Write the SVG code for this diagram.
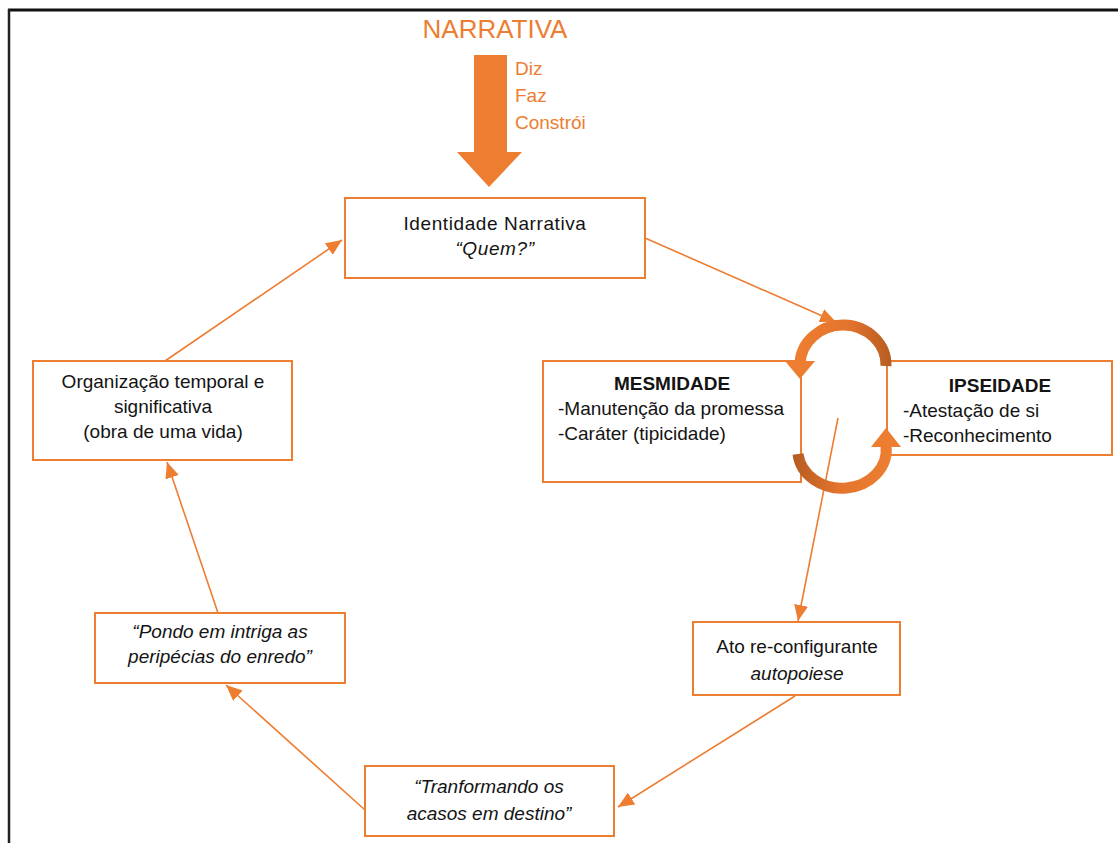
<svg xmlns="http://www.w3.org/2000/svg" width="1118" height="843" viewBox="0 0 1118 843">
<style>
.box{fill:#fff;stroke:#ED7D31;stroke-width:2}
.t{font-family:"Liberation Sans",Arial,sans-serif;font-size:19px;fill:#141414}
.c{text-anchor:middle}
.i{font-style:italic}
.b{font-weight:bold}
.or{font-family:"Liberation Sans",Arial,sans-serif;fill:#ED7D31}
.con{stroke:#ED7D31;stroke-width:1.6;fill:none;marker-end:url(#ah)}
</style>
<defs>
<marker id="ah" viewBox="0 0 16 14" refX="16" refY="7" markerWidth="16" markerHeight="14" markerUnits="userSpaceOnUse" orient="auto">
<path d="M0,0 L16,7 L0,14 z" fill="#ED7D31"/>
</marker>
<linearGradient id="gTop" gradientUnits="userSpaceOnUse" x1="800" y1="0" x2="890" y2="0">
<stop offset="0" stop-color="#ED7D31"/><stop offset="0.55" stop-color="#E2742C"/><stop offset="1" stop-color="#B85D22"/>
</linearGradient>
<linearGradient id="gBot" gradientUnits="userSpaceOnUse" x1="796" y1="0" x2="888" y2="0">
<stop offset="0" stop-color="#B85D22"/><stop offset="0.45" stop-color="#E2742C"/><stop offset="1" stop-color="#ED7D31"/>
</linearGradient>
</defs>
<g id="frame">
<line x1="8" y1="10" x2="1118" y2="10" stroke="#111" stroke-width="3"/>
<line x1="9" y1="9" x2="9" y2="843" stroke="#222" stroke-width="2.5"/>
</g>
<g id="narrativa">
<text class="or c" x="495" y="38" font-size="26">NARRATIVA</text>
<polygon points="474,55 507,55 507,152 522,152 489,187 457,152 474,152" fill="#ED7D31"/>
<text class="or" x="515" y="75" font-size="19">Diz</text>
<text class="or" x="515" y="102" font-size="19">Faz</text>
<text class="or" x="515" y="129" font-size="19">Constrói</text>
</g>
<g id="connectors">
<line class="con" x1="645" y1="238" x2="836" y2="322"/>
<line class="con" x1="838" y1="418" x2="798" y2="621"/>
<line class="con" x1="795" y1="696" x2="618" y2="807"/>
<line class="con" x1="365" y1="810" x2="226" y2="685"/>
<line class="con" x1="218" y1="613" x2="167" y2="462"/>
<line class="con" x1="165" y1="361" x2="342" y2="240"/>
</g>
<g id="identidade">
<rect class="box" x="345" y="198" width="300" height="80"/>
<text class="t c" x="495" y="230" font-size="23" letter-spacing="0.6">Identidade Narrativa</text>
<text class="t c i" x="495" y="255" font-size="20" letter-spacing="0.6">“Quem?”</text>
</g>
<g id="mesmidade">
<rect class="box" x="543" y="361" width="258" height="121"/>
<text class="t c b" x="672" y="390">MESMIDADE</text>
<text class="t" x="558" y="415">-Manutenção da promessa</text>
<text class="t" x="558" y="440">-Caráter (tipicidade)</text>
</g>
<g id="ipseidade">
<rect class="box" x="887" y="361" width="225" height="94"/>
<text class="t c b" x="1000" y="392">IPSEIDADE</text>
<text class="t" x="903" y="417">-Atestação de si</text>
<text class="t" x="903" y="442">-Reconhecimento</text>
</g>
<g id="ciclo">
<path d="M886,366 A43,40 0 0 0 800,364" fill="none" stroke="url(#gTop)" stroke-width="11"/>
<polygon points="785,361 815,361 800,379" fill="#ED7D31"/>
<path d="M798,454 A44,38 0 0 0 886,446" fill="none" stroke="url(#gBot)" stroke-width="11"/>
<polygon points="871,447 901,447 886,428" fill="#ED7D31"/>
</g>
<g id="organizacao">
<rect class="box" x="33" y="361" width="259" height="99"/>
<text class="t c" x="163" y="388">Organização temporal e</text>
<text class="t c" x="163" y="413">significativa</text>
<text class="t c" x="163" y="438">(obra de uma vida)</text>
</g>
<g id="pondo">
<rect class="box" x="95" y="613" width="250" height="70"/>
<text class="t c i" x="220" y="638">“Pondo em intriga as</text>
<text class="t c i" x="220" y="663">peripécias do enredo”</text>
</g>
<g id="ato">
<rect class="box" x="693" y="622" width="207" height="73"/>
<text class="t c" x="797" y="653">Ato re-configurante</text>
<text class="t c i" x="797" y="680">autopoiese</text>
</g>
<g id="tranformando">
<rect class="box" x="365" y="766" width="249" height="70"/>
<text class="t c i" x="489" y="793">“Tranformando os</text>
<text class="t c i" x="489" y="820">acasos em destino”</text>
</g>
</svg>
